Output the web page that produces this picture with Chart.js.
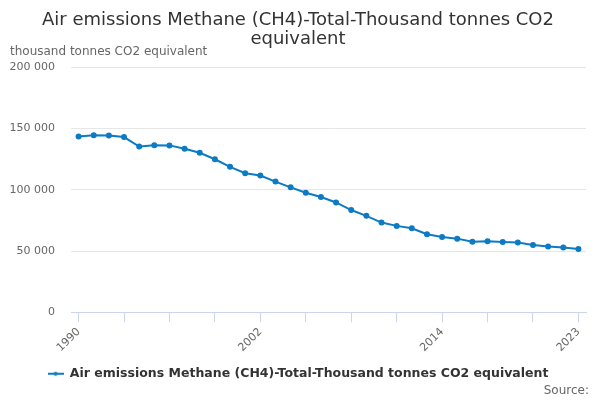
<!DOCTYPE html>
<html>
<head>
<meta charset="utf-8">
<script src="https://cdn.jsdelivr.net/npm/chart.js@4"></script>
<style>
    body { margin: 0; background: #fff; }
    #wrap { position: relative; width: 600px; height: 400px; }
    #source {
        position: absolute;
        right: 11px;
        bottom: 3px;
        font: 12px "DejaVu Sans", sans-serif;
        color: #666;
    }
</style>
</head>
<body>
<div id="wrap">
    <canvas id="emissionsChart" width="600" height="400"></canvas>
    <div id="source">Source:</div>
</div>
<script>
// Data (thousand tonnes CO2 equivalent)
const years = ['1990', '1991', '1992', '1993', '1994', '1995', '1996', '1997', '1998', '1999',
    '2000', '2001', '2002', '2003', '2004', '2005', '2006', '2007', '2008', '2009',
    '2010', '2011', '2012', '2013', '2014', '2015', '2016', '2017', '2018', '2019',
    '2020', '2021', '2022', '2023'];
const methaneValues = [143400, 144300, 144200, 142900, 135200, 136300, 136100, 133400, 130100, 124800,
    118600, 113400, 111500, 106600, 101900, 97500, 94000, 89600, 83400, 78700,
    73200, 70500, 68600, 63700, 61500, 60100, 57600, 58000, 57400, 56900,
    55000, 53600, 52800, 51600];
const labelledYears = ['1990', '2002', '2014', '2023'];
const yTicks = [0, 50000, 100000, 150000, 200000];

const seriesName = 'Air emissions Methane (CH4)-Total-Thousand tonnes CO2 equivalent';
const lineColor = '#0d7bc4';

// Small line-with-dot marker for the legend
function legendMarker() {
    const c = document.createElement('canvas');
    c.width = 16;
    c.height = 8;
    const ctx = c.getContext('2d');
    ctx.strokeStyle = lineColor;
    ctx.lineWidth = 2;
    ctx.beginPath();
    ctx.moveTo(0, 4);
    ctx.lineTo(16, 4);
    ctx.stroke();
    ctx.fillStyle = lineColor;
    ctx.beginPath();
    ctx.arc(8, 4, 2, 0, Math.PI * 2);
    ctx.fill();
    return c;
}

function formatThousands(v) {
    return String(v).replace(/\B(?=(\d{3})+(?!\d))/g, ' ');
}

new Chart(document.getElementById('emissionsChart'), {
    type: 'line',
    data: {
        labels: years,
        datasets: [{
            label: seriesName,
            data: methaneValues,
            borderColor: lineColor,
            backgroundColor: lineColor,
            borderWidth: 2,
            pointRadius: 2,
            pointHoverRadius: 3,
            tension: 0
        }]
    },
    options: {
        responsive: false,
        animation: false,
        layout: {
            padding: { left: 10, right: 14, bottom: 10 }
        },
        scales: {
            x: {
                offset: true,
                afterFit: function(axis) {
                    // let the y axis decide where the plot starts
                    axis.paddingLeft = 0;
                    axis.paddingRight = 0;
                },
                grid: {
                    offset: false,
                    drawOnChartArea: false,
                    drawTicks: true,
                    tickLength: 10,
                    color: '#ccd6eb'
                },
                border: { color: '#ccd6eb' },
                ticks: {
                    autoSkip: false,
                    minRotation: 45,
                    maxRotation: 45,
                    color: '#666',
                    font: { family: 'DejaVu Sans', size: 11 },
                    callback: function(value, index) {
                        if (index % 3 !== 0) return null;
                        const y = years[index];
                        return labelledYears.includes(y) ? y : '';
                    }
                }
            },
            y: {
                min: 0,
                max: 200000,
                afterBuildTicks: function(axis) {
                    axis.ticks = yTicks.map(v => ({ value: v }));
                },
                afterFit: function(axis) {
                    axis.width = 61;
                },
                grid: {
                    color: '#e6e6e6',
                    drawTicks: false
                },
                border: { display: false },
                ticks: {
                    padding: 16,
                    color: '#666',
                    font: { family: 'DejaVu Sans', size: 11 },
                    callback: v => formatThousands(v)
                }
            }
        },
        plugins: {
            title: {
                display: true,
                text: ['Air emissions Methane (CH4)-Total-Thousand tonnes CO2', 'equivalent'],
                color: '#333',
                font: { family: 'DejaVu Sans', size: 18, weight: 'normal', lineHeight: 1.1 },
                padding: { top: 10, bottom: -5 }
            },
            subtitle: {
                display: true,
                text: 'thousand tonnes CO2 equivalent',
                align: 'start',
                color: '#666',
                font: { family: 'DejaVu Sans', size: 12 },
                padding: { top: 0, bottom: 8 }
            },
            legend: {
                position: 'bottom',
                labels: {
                    color: '#333',
                    font: { family: 'DejaVu Sans', size: 12.5, weight: 'bold' },
                    padding: 10,
                    usePointStyle: true,
                    pointStyleWidth: 16,
                    generateLabels: function(chart) {
                        const items = Chart.defaults.plugins.legend.labels.generateLabels(chart);
                        items.forEach(item => { item.pointStyle = legendMarker(); });
                        return items;
                    }
                }
            },
            tooltip: { enabled: false }
        }
    }
});
</script>
</body>
</html>
